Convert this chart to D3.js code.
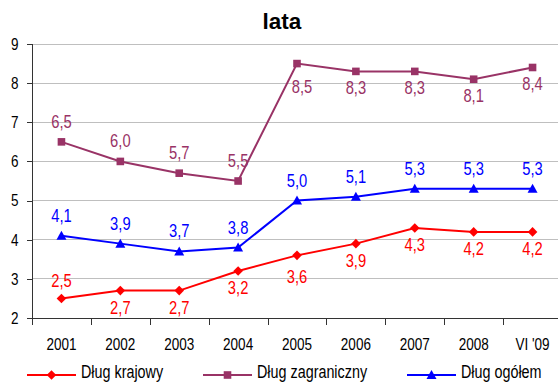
<!DOCTYPE html>
<html>
<head>
<meta charset="utf-8">
<script src="https://cdn.jsdelivr.net/npm/d3@7"></script>
<style>
  html, body { margin: 0; padding: 0; background: #fff; }
  svg { display: block; }
  text { font-family: "Liberation Sans", Arial, sans-serif; }
</style>
</head>
<body>
<div id="chart"></div>
<script>
// Debt relative to years (lata)
const categories = ["2001", "2002", "2003", "2004", "2005", "2006", "2007", "2008", "VI '09"];
const dlugKrajowy = [2.5, 2.7, 2.7, 3.2, 3.6, 3.9, 4.3, 4.2, 4.2];
const dlugZagraniczny = [6.5, 6.0, 5.7, 5.5, 8.5, 8.3, 8.3, 8.1, 8.4];
const dlugOgolem = [4.1, 3.9, 3.7, 3.8, 5.0, 5.1, 5.3, 5.3, 5.3];
const yTicks = [2, 3, 4, 5, 6, 7, 8, 9];
const seriesNames = ["Dług krajowy", "Dług zagraniczny", "Dług ogółem"];
const title = "lata";

const W = 558, H = 382;
const plot = { left: 32, right: 562, top: 44, bottom: 318 };
const SQUEEZE = 0.82; // condensed lettering for labels

const series = [
  { name: seriesNames[0], values: dlugKrajowy, color: "#ff0000", marker: "diamond", above: i => i === 0 },
  { name: seriesNames[1], values: dlugZagraniczny, color: "#993366", marker: "square", above: i => i < 4 },
  { name: seriesNames[2], values: dlugOgolem, color: "#0000ff", marker: "triangle", above: () => true }
];

// small hand adjustments of individual value labels [dx, dy]
const labelNudge = { "0-0": [0, 3], "0-4": [0, 5], "1-4": [5, 6] };

const svg = d3.select("#chart").append("svg")
  .attr("width", W).attr("height", H)
  .style("background", "#fff");

const x = d3.scaleBand().domain(categories).range([plot.left, plot.right]).padding(0);
const xEdge = d3.scaleLinear().domain([0, categories.length]).range([plot.left, plot.right]);
const y = d3.scaleLinear().domain([2, 9]).range([plot.bottom, plot.top]);
const cx = i => x(categories[i]) + x.bandwidth() / 2;

// condensed text placed at (px, py)
function narrowText(parent, px, py, str) {
  return parent.append("text")
    .attr("transform", `translate(${px},${py}) scale(${SQUEEZE},1)`)
    .text(str);
}

// horizontal gridlines
svg.append("g")
  .selectAll("line")
  .data(yTicks.filter(t => t > 2))
  .join("line")
  .attr("x1", plot.left).attr("x2", plot.right)
  .attr("y1", d => y(d)).attr("y2", d => y(d))
  .attr("stroke", "#bfbfbf").attr("stroke-width", 1)
  .attr("shape-rendering", "crispEdges");

// y axis
const yAxis = svg.append("g")
  .attr("transform", `translate(${plot.left},0)`)
  .call(d3.axisLeft(y).tickValues(yTicks).tickFormat(d3.format("d")).tickSize(5).tickPadding(8.5));
yAxis.select(".domain").attr("stroke", "#333").attr("shape-rendering", "crispEdges");
yAxis.selectAll(".tick line").attr("stroke", "#333").attr("shape-rendering", "crispEdges");
yAxis.selectAll("text")
  .attr("x", -13.5 / SQUEEZE)
  .attr("transform", `scale(${SQUEEZE},1)`)
  .attr("font-family", null)
  .style("font-size", "16.5px").attr("fill", "#000");

// x axis: boundary tick marks
const xTicks = svg.append("g")
  .attr("transform", `translate(0,${plot.bottom})`)
  .call(d3.axisBottom(xEdge).tickValues(d3.range(0, categories.length + 1)).tickFormat("").tickSize(7).tickSizeOuter(0));
xTicks.select(".domain").attr("stroke", "#333").attr("shape-rendering", "crispEdges");
xTicks.selectAll(".tick line").attr("stroke", "#333").attr("shape-rendering", "crispEdges");

// x axis: category labels
const xLabels = svg.append("g")
  .attr("transform", `translate(0,${plot.bottom})`)
  .call(d3.axisBottom(x).tickSize(0).tickPadding(0));
xLabels.select(".domain").remove();
xLabels.selectAll("text")
  .attr("y", 32).attr("dy", null)
  .attr("transform", `scale(${SQUEEZE},1)`)
  .attr("font-family", null)
  .style("font-size", "16.5px").attr("fill", "#000");

// markers
function markerPath(type) {
  if (type === "diamond") return "M0,-4.8L4.8,0L0,4.8L-4.8,0Z";
  if (type === "square") return "M-3.8,-3.8H3.8V3.8H-3.8Z";
  return "M0,-5L5,4H-5Z";
}

const line = d3.line().x((d, i) => cx(i)).y(d => y(d));
const fmt = v => d3.format(".1f")(v).replace(".", ",");

series.forEach((s, si) => {
  const g = svg.append("g");
  g.append("path")
    .datum(s.values)
    .attr("d", line)
    .attr("fill", "none")
    .attr("stroke", s.color)
    .attr("stroke-width", 2);
  g.selectAll("path.mk")
    .data(s.values)
    .join("path")
    .attr("class", "mk")
    .attr("d", markerPath(s.marker))
    .attr("fill", s.color)
    .attr("transform", (d, i) => `translate(${cx(i)},${y(d)})`);
  s.values.forEach((v, i) => {
    const n = labelNudge[si + "-" + i] || [0, 0];
    narrowText(g, cx(i) + n[0], y(v) + (s.above(i) ? -14 : 23) + n[1], fmt(v))
      .attr("text-anchor", "middle")
      .style("font-size", "18px")
      .attr("fill", s.color);
  });
});

// title
svg.append("text")
  .attr("x", 282).attr("y", 28.5)
  .attr("text-anchor", "middle")
  .style("font-weight", "bold")
  .style("font-size", "22.5px")
  .text(title);

// legend
const legendX = [27, 203, 407];
const legend = svg.append("g");
series.forEach((s, si) => {
  const lg = legend.append("g").attr("transform", `translate(${legendX[si]},375)`);
  lg.append("line").attr("x1", 0).attr("x2", 49).attr("y1", 0).attr("y2", 0)
    .attr("stroke", s.color).attr("stroke-width", 2);
  lg.append("path").attr("d", markerPath(s.marker)).attr("fill", s.color)
    .attr("transform", "translate(24.5,0)");
  narrowText(lg, 54, 2.5, s.name)
    .style("font-size", "17.5px")
    .attr("fill", "#000");
});
</script>
</body>
</html>
